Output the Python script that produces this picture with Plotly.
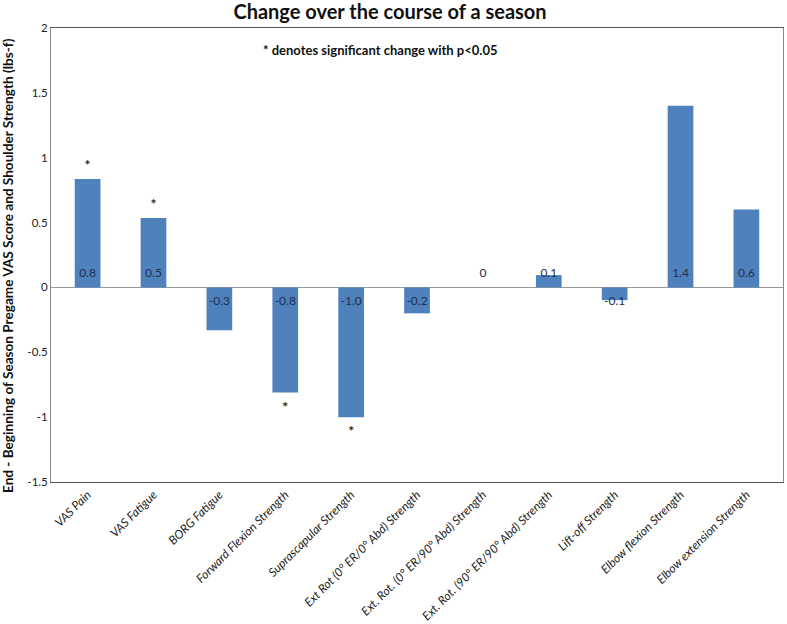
import plotly.graph_objects as go

categories = ["VAS Pain", "VAS Fatigue", "BORG Fatigue", "Forward Flexion Strength",
              "Suprascapular Strength", "Ext Rot (0° ER/0° Abd) Strength",
              "Ext. Rot. (0° ER/90° Abd) Strength", "Ext. Rot. (90° ER/90° Abd) Strength",
              "Lift-off Strength", "Elbow flexion Strength", "Elbow extension Strength"]
values = [0.835, 0.535, -0.33, -0.81, -1.0, -0.2, 0.0, 0.095, -0.098, 1.4, 0.6]
labels = ["0.8", "0.5", "-0.3", "-0.8", "-1.0", "-0.2", "0", "0.1", "-0.1", "1.4", "0.6"]
significant = [True, True, False, True, True, False, False, False, False, False, False]

font = "Lato, 'Open Sans', sans-serif"
blue = "#4F81BD"

fig = go.Figure()
fig.add_trace(go.Bar(x=categories, y=values, marker=dict(color=blue, line=dict(width=0)),
                     hoverinfo="x+y"))

# value labels sit just beside the zero line
fig.add_trace(go.Scatter(
    x=categories, y=[0.1 if v >= 0 else -0.11 for v in values],
    mode="text", text=labels, textposition="middle center",
    textfont=dict(family=font, size=12, color="#1F2F4F"), hoverinfo="skip"))

# significance stars beyond the end of the bar
star_x = [c for c, s in zip(categories, significant) if s]
star_y = [v + (0.1 if v >= 0 else -0.12) for v, s in zip(values, significant) if s]
fig.add_trace(go.Scatter(
    x=star_x, y=star_y, mode="text", text=["<b>*</b>"] * len(star_x),
    textposition="middle center",
    textfont=dict(family=font, size=14, color="#222222"), hoverinfo="skip"))

fig.update_layout(
    width=787, height=624,
    margin=dict(l=51, r=4, t=28, b=142, autoexpand=False),
    paper_bgcolor="white", plot_bgcolor="white",
    showlegend=False, bargap=0.61,
    font=dict(family=font, size=11, color="#222222"),
    title=dict(text="<b>Change over the course of a season</b>", x=390 / 787, xanchor="center",
               y=1 - 12 / 624, yanchor="middle", font=dict(family=font, size=20, color="#111111")),
    annotations=[
        dict(text="<b>* denotes significant change with p<0.05</b>", xref="paper", yref="paper",
             x=(261 - 51) / 732, y=1 - (50 - 28) / 454, xanchor="left", yanchor="middle",
             showarrow=False, font=dict(family=font, size=13, color="#111111")),
        dict(text="<b>End - Beginning of Season Pregame VAS Score and Shoulder Strength (lbs-f)</b>",
             xref="paper", yref="paper", x=-(51 - 8) / 732, y=1 - (266 - 28) / 454,
             xanchor="center", yanchor="middle", textangle=-90, showarrow=False,
             font=dict(family=font, size=13.6, color="#111111")),
    ],
)
fig.update_xaxes(tickangle=-45, automargin=False,
                 tickfont=dict(family=font, size=12, color="#222222", style="italic"),
                 showline=True, linecolor="#555555", linewidth=1, mirror=True, ticks="",
                 showgrid=False)
fig.update_yaxes(range=[-1.5, 2], automargin=False,
                 tickvals=[-1.5, -1, -0.5, 0, 0.5, 1, 1.5, 2],
                 ticktext=["-1.5", "-1", "-0.5", "0", "0.5", "1", "1.5", "2"],
                 tickfont=dict(family=font, size=11.5, color="#222222"),
                 showline=True, linecolor="#888888", linewidth=1, mirror=True, ticks="",
                 showgrid=False, zeroline=True, zerolinecolor="#999999", zerolinewidth=1)

# drop the browser's default 8px body margin so the figure fills the window
fig.write_html("out.html", config={"displayModeBar": False},
               post_script="document.body.style.margin = '0';")
